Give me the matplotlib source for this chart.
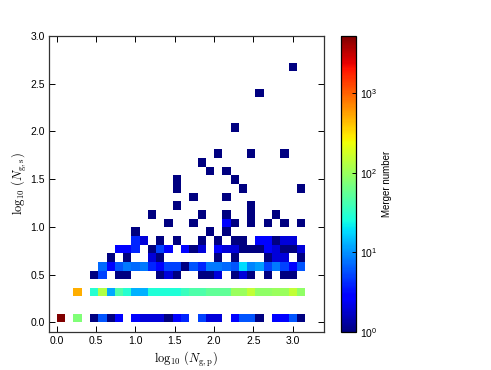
import numpy as np
import matplotlib
matplotlib.use("Agg")
import matplotlib.pyplot as plt
from matplotlib.colors import LogNorm

plt.rcParams['font.family'] = ['Liberation Sans', 'DejaVu Sans']
plt.rcParams['mathtext.fontset'] = 'cm'

# ---- data: 2D histogram counts (30 x 30 bins) ----
n_bins = 30
x_max = 3.16   # max of log10(N_g,p)
y_max = 2.72   # max of log10(N_g,s)

row0 = [5280, 0, 76, 0, 1, 6, 1, 3, 0, 3, 2, 2, 2, 1, 3, 4, 0, 5, 2, 2,
        0, 3, 6, 6, 1, 0, 3, 3, 6, 1]
row3 = [0, 0, 494, 0, 30, 126, 12, 46, 30, 13, 13, 28, 28, 28, 28, 36, 45, 45, 55, 55,
        55, 100, 100, 147, 90, 90, 100, 100, 147, 90]
row5 = [0, 0, 0, 0, 1, 5, 0, 1, 1, 0, 0, 0, 1, 2, 1, 0, 0, 1, 1, 2,
        0, 1, 2, 1, 0, 1, 0, 1, 1, 0]
row6 = [0, 0, 0, 0, 0, 7, 3, 6, 8, 7, 8, 4, 3, 5, 5, 1, 6, 4, 8, 8,
        7, 6, 19, 9, 11, 5, 8, 5, 3, 6]
row7 = [0, 0, 0, 0, 0, 0, 1, 0, 1, 0, 0, 2, 1, 0, 0, 0, 0, 0, 0, 1,
        0, 1, 0, 0, 0, 1, 2, 2, 0, 1]
row8 = [0, 0, 0, 0, 0, 0, 0, 3, 3, 4, 0, 1, 5, 3, 0, 3, 1, 2, 0, 3,
        2, 2, 1, 1, 1, 3, 2, 1, 1, 2]
row9 = [0, 0, 0, 0, 0, 0, 0, 0, 0, 4, 2, 0, 1, 0, 1, 0, 0, 1, 0, 1,
        0, 1, 1, 0, 3, 3, 1, 2, 2, 0]
dense_rows = {0: row0, 3: row3, 5: row5, 6: row6, 7: row7, 8: row8, 9: row9}

# sparse upper cells: (row, column, count)
sparse_cells = [
    (10, 9, 1), (10, 18, 1), (10, 20, 1),
    (11, 13, 1), (11, 16, 1), (11, 20, 3), (11, 21, 1), (11, 23, 1), (11, 25, 1), (11, 27, 1), (11, 29, 1),
    (12, 11, 1), (12, 17, 1), (12, 20, 1), (12, 23, 1), (12, 26, 1),
    (13, 14, 1), (13, 23, 1),
    (14, 16, 1), (14, 20, 1),
    (15, 14, 1), (15, 22, 1), (15, 29, 1),
    (16, 14, 1), (16, 21, 1),
    (17, 18, 1), (17, 20, 1),
    (18, 17, 1),
    (19, 19, 1), (19, 23, 1), (19, 27, 1),
    (22, 21, 1),
    (26, 24, 1),
    (29, 28, 1),
]

counts = np.zeros((n_bins, n_bins))
for r, vals in dense_rows.items():
    counts[r, :] = vals
for r, c, v in sparse_cells:
    counts[r, c] = v
counts = np.ma.masked_less(counts, 1)

x_edges = np.linspace(0, x_max, n_bins + 1)
y_edges = np.linspace(0, y_max, n_bins + 1)

fig = plt.figure(figsize=(4.91, 3.70), dpi=100)
ax = fig.add_axes([49 / 491, 38 / 370, 275 / 491, 296 / 370])
cax = fig.add_axes([341 / 491, 38 / 370, 15 / 491, 296 / 370])

mesh = ax.pcolormesh(x_edges, y_edges, counts, cmap='jet',
                     norm=LogNorm(vmin=1, vmax=counts.max()))

ax.set_xlim(-0.1, 3.4)
ax.set_ylim(-0.1, 3.0)
ticks = np.arange(0, 3.01, 0.5)
ax.set_xticks(ticks)
ax.set_yticks(ticks)
ax.set_xticklabels([f"{t:.1f}" for t in ticks])
ax.set_yticklabels([f"{t:.1f}" for t in ticks])
ax.tick_params(direction='in', top=True, right=True, length=4, width=0.7,
               labelsize=7.5, pad=3)
for s in ax.spines.values():
    s.set_linewidth(0.9)
    s.set_color('#333333')

ax.set_xlabel(r'$\log_{10}\,(N_{\rm g,p})$', fontsize=9, labelpad=3)
ax.set_ylabel(r'$\log_{10}\,(N_{\rm g,s})$', fontsize=9, labelpad=1)

cb = fig.colorbar(mesh, cax=cax)
cb.ax.minorticks_off()
cb.ax.tick_params(direction='in', length=3, width=0.7, labelsize=7.5, pad=3)
cb.outline.set_linewidth(0.9)
cb.set_label('Merger number', fontsize=7, labelpad=3)

fig.savefig('out.png', dpi=100)
